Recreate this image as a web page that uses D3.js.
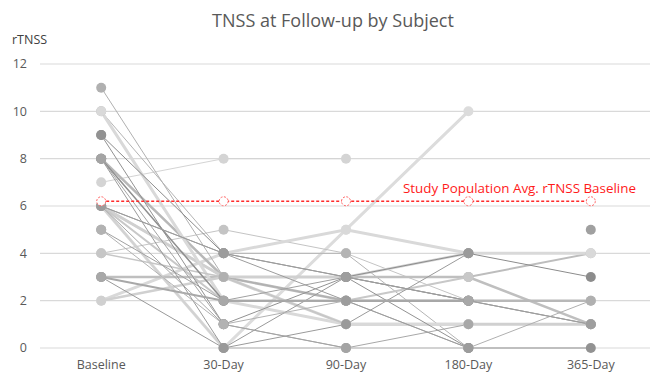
<!DOCTYPE html>
<html>
<head>
<meta charset="utf-8">
<script src="https://cdn.jsdelivr.net/npm/d3@7"></script>
<style>
  body { margin: 0; background: #fff; }
  text { font-family: "Open Sans", "Noto Sans", sans-serif; }
</style>
</head>
<body>
<div id="chart"></div>
<script>
const categories = ['Baseline', '30-Day', '90-Day', '180-Day', '365-Day'];
const yTicks = [0, 2, 4, 6, 8, 10, 12];
const avgBaseline = 6.2;

// rTNSS per subject at each visit (null = no visit)
const subjects = [
  [7, 8, 8, null, null],
  [6, 0, 5, 10, null],
  [4, 5, 4, 2, 1],
  [10, 4, 4, 0, null],
  [6, 3, 3, 3, 4],
  [2, 4, 5, 4, 4],
  [3, 3, 3, 3, 1],
  [8, 3, 2, 2, 2],
  [6, 3, 1, 1, 1],
  [10, 2, 1, 1, null],
  [2, 3, 3, 4, null],
  [6, 2, 2, 3, null],
  [6, 0, 0, 0, null],
  [4, 3, 1, null, null],
  [11, 3, 2, 0, 2],
  [6, 1, 0, 1, null],
  [5, 2, 3, 2, 1],
  [8, 2, 2, 2, null],
  [9, 4, 3, 4, 3],
  [9, 1, 3, 0, 0],
  [8, 0, 1, 4, null],
  [3, 0, 3, 2, null],
  [6, 4, 3, 2, 1],
  [8, 1, 0, null, null],
  [3, 2, 2, 2, null],
  [5, 1, 2, null, null],
  [6, 4, 2, 0, null],
  [null, null, null, null, 5]
];

const subjectColors = [
  '#d4d4d4', '#dcdcdc', '#c4c4c4', '#b4b4b4', '#bdbdbd', '#d9d9d9', '#bfbfbf',
  '#b8b8b8', '#d0d0d0', '#d9d9d9', '#d0d0d0', '#c8c8c8', '#d2d2d2', '#c6c6c6',
  '#b0b0b0', '#a8a8a8', '#a0a0a0', '#8f8f8f', '#8c8c8c', '#929292', '#9a9a9a',
  '#999999', '#9e9e9e', '#a4a4a4', '#a8a8a8', '#b2b2b2', '#9c9c9c', '#a0a0a0'
];
const subjectWidths = [
  1, 3, 1, 1, 2, 3, 2.5, 2.5, 3, 3, 2.5, 2, 2, 1.5,
  1, 1, 1, 1.5, 1, 1, 1, 1, 1, 1, 2, 1, 1, 1
];

const W = 654, H = 372;
const svg = d3.select('#chart').append('svg')
  .attr('width', W)
  .attr('height', H);

const x = d3.scalePoint().domain(categories).range([40, 652]).padding(0.5);
const y = d3.scaleLinear().domain([0, 12]).range([348, 64]);

// gridlines
svg.append('g')
  .selectAll('line')
  .data(yTicks)
  .join('line')
  .attr('x1', 40)
  .attr('x2', 650)
  .attr('y1', d => y(d))
  .attr('y2', d => y(d))
  .attr('stroke', '#d9d9d9')
  .attr('stroke-width', 1.2);

// y tick labels
svg.append('g')
  .selectAll('text')
  .data(yTicks)
  .join('text')
  .attr('x', 27)
  .attr('y', d => y(d))
  .attr('dy', '0.35em')
  .attr('text-anchor', 'end')
  .style('font-size', '12.5px')
  .attr('fill', '#595959')
  .text(d => d);

// x labels
svg.append('g')
  .selectAll('text')
  .data(categories)
  .join('text')
  .attr('x', d => x(d))
  .attr('y', 369)
  .attr('text-anchor', 'middle')
  .style('font-size', '12.5px')
  .attr('fill', '#595959')
  .text(d => d);

const line = d3.line()
  .defined(d => d != null)
  .x((d, i) => x(categories[i]))
  .y(d => y(d));

// subject lines
svg.append('g')
  .selectAll('path')
  .data(subjects)
  .join('path')
  .attr('d', line)
  .attr('fill', 'none')
  .attr('stroke', (d, i) => subjectColors[i])
  .attr('stroke-width', (d, i) => subjectWidths[i]);

// subject markers
const pts = [];
subjects.forEach((s, si) => s.forEach((v, ci) => {
  if (v != null) pts.push({ si, cat: categories[ci], v });
}));
svg.append('g')
  .selectAll('circle')
  .data(pts)
  .join('circle')
  .attr('cx', d => x(d.cat))
  .attr('cy', d => y(d.v))
  .attr('r', 5)
  .attr('fill', d => subjectColors[d.si]);

// population average baseline
svg.append('path')
  .datum(categories.map(() => avgBaseline))
  .attr('d', line)
  .attr('fill', 'none')
  .attr('stroke', '#ff2a2a')
  .attr('stroke-width', 1.5)
  .attr('stroke-dasharray', '3,2');

svg.append('g')
  .selectAll('circle')
  .data(categories)
  .join('circle')
  .attr('cx', d => x(d))
  .attr('cy', y(avgBaseline))
  .attr('r', 4.5)
  .attr('fill', '#fff')
  .attr('stroke', '#ff6060')
  .attr('stroke-width', 1)
  .attr('stroke-dasharray', '2,1.5');

svg.append('text')
  .attr('x', 403)
  .attr('y', y(avgBaseline) - 8)
  .style('font-size', '13.4px')
  .attr('fill', '#ff1a1a')
  .text('Study Population Avg. rTNSS Baseline');

// title and axis label
svg.append('text')
  .attr('x', 333)
  .attr('y', 27)
  .attr('text-anchor', 'middle')
  .style('font-size', '18px')
  .attr('fill', '#595959')
  .text('TNSS at Follow-up by Subject');

svg.append('text')
  .attr('x', 12)
  .attr('y', 44)
  .style('font-size', '12.5px')
  .attr('fill', '#404040')
  .text('rTNSS');
</script>
</body>
</html>
